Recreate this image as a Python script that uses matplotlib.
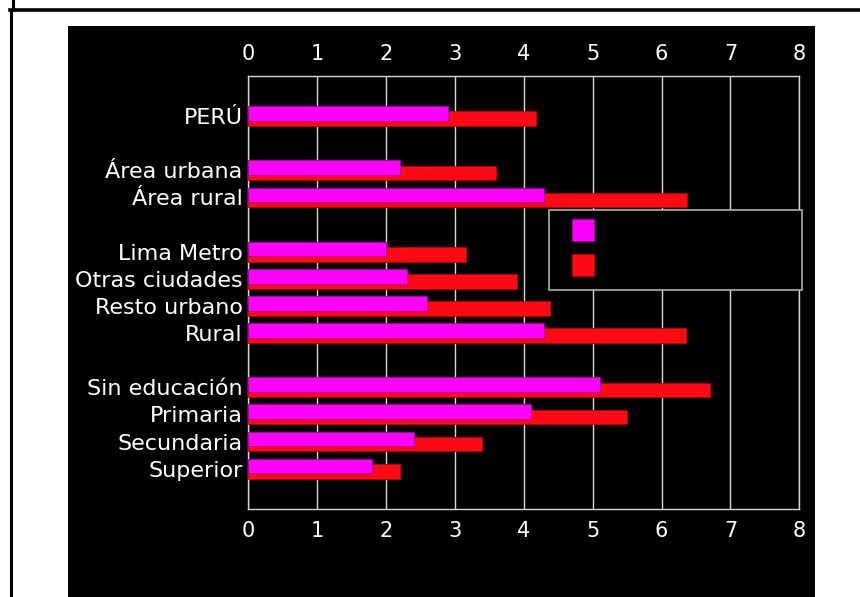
import matplotlib
matplotlib.use('Agg')
import matplotlib.pyplot as plt
from matplotlib.patches import Rectangle
from matplotlib.lines import Line2D

plt.rcParams['font.family'] = ['DejaVu Sans']

# rows of the chart; None marks an empty spacer row
categories = ['PERÚ', None, 'Área urbana', 'Área rural', None,
              'Lima Metro', 'Otras ciudades', 'Resto urbano', 'Rural', None,
              'Sin educación', 'Primaria', 'Secundaria', 'Superior']
serie_a = [2.9, None, 2.2, 4.3, None, 2.0, 2.3, 2.6, 4.3, None, 5.1, 4.1, 2.4, 1.8]
serie_b = [4.17, None, 3.6, 6.37, None, 3.16, 3.9, 4.38, 6.35, None, 6.71, 5.5, 3.4, 2.2]
x_ticks = [0, 1, 2, 3, 4, 5, 6, 7, 8]

magenta = '#ff00ff'
red = '#ff0a14'

fig = plt.figure(figsize=(8.6, 5.97), dpi=100)
fig.patch.set_facecolor('white')

# black panel behind the chart
fig.patches.append(Rectangle((68 / 860, 0), 747 / 860, 1 - 26 / 597,
                             transform=fig.transFigure, facecolor='black',
                             edgecolor='none', zorder=-5))
# page border lines
fig.add_artist(Line2D([10 / 860, 1], [1 - 9.5 / 597] * 2, color='black', lw=2.6))
fig.add_artist(Line2D([11 / 860] * 2, [0, 1 - 9.5 / 597], color='black', lw=2.2))
fig.add_artist(Line2D([13.3 / 860] * 2, [1 - 9.5 / 597, 1], color='black', lw=2.2))

ax = fig.add_axes([248.3 / 860, 1 - 509.3 / 597, 551 / 860, 433.3 / 597])
ax.set_facecolor('black')

rows = [i for i, c in enumerate(categories) if c is not None]
labels = [categories[i] for i in rows]
a_vals = [serie_a[i] for i in rows]
b_vals = [serie_b[i] for i in rows]

h = 0.54
off = 0.095
ax.barh([r + off for r in rows], b_vals, height=h, color=red,
        edgecolor='#b00010', linewidth=0.6, zorder=3)
ax.barh([r - off for r in rows], a_vals, height=h, color=magenta,
        edgecolor='#a000a0', linewidth=0.6, zorder=4)

ax.set_xlim(0, 8)
ax.set_ylim(14.5, -1.48)
ax.set_xticks(x_ticks)
ax.set_yticks(rows)
ax.set_yticklabels(labels)
ax.tick_params(axis='x', which='both', top=True, labeltop=True, bottom=True,
               labelbottom=True, length=0, pad=8.5, labelsize=15, colors='white')
ax.tick_params(axis='y', length=0, pad=4, labelsize=16, colors='white')
ax.grid(axis='x', color='#d8d8d8', linewidth=1.0, zorder=1)
for s in ax.spines.values():
    s.set_color('#d8d8d8')
    s.set_linewidth(1.0)

handles = [Line2D([], [], linestyle='none', marker='s', markersize=15.5,
                  markerfacecolor=magenta, markeredgecolor='#a000a0', markeredgewidth=0.6),
           Line2D([], [], linestyle='none', marker='s', markersize=15.5,
                  markerfacecolor=red, markeredgecolor='#b00010', markeredgewidth=0.6)]
leg = ax.legend(handles, [' ', ' '], loc='upper left', mode='expand',
                bbox_to_anchor=(0.5457, 0.6907, 0.4597, 0.0),
                fontsize=14, handlelength=2.2, handleheight=1.0,
                labelspacing=0.8, borderpad=0.65, borderaxespad=0,
                fancybox=False, facecolor='black', edgecolor='#b0b0b0',
                framealpha=1)
leg.get_frame().set_linewidth(1.2)
leg.set_zorder(6)

fig.savefig('out.png', dpi=100, facecolor='white')
